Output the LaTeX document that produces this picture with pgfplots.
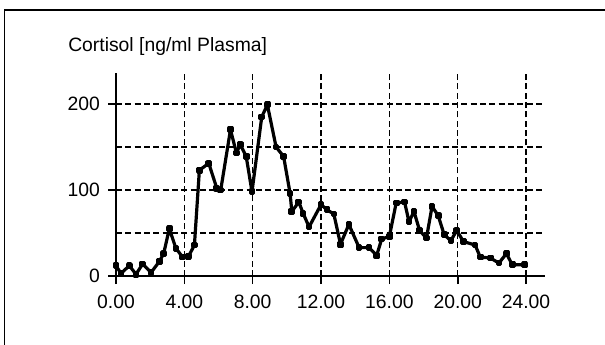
\documentclass[border=0pt]{standalone}
\usepackage{pgfplots}
\pgfplotsset{compat=1.18}
\usepackage{fontspec}
\setmainfont{Liberation Sans}
\begin{document}
\fontsize{14.5}{17}\selectfont
\begin{tikzpicture}[x=1pt,y=1pt]
\useasboundingbox (0,0) rectangle (453.75,258);
\draw[line width=1.2pt] (3.4,-2) -- (3.4,250.5) -- (456,250.5);
\node[anchor=west,inner sep=0pt] at (51,223.5) {Cortisol [ng/ml Plasma]};
\begin{axis}[
  at={(87pt,51pt)}, anchor=origin,
  scale only axis, width=321.75pt, height=152.25pt,
  xmin=0, xmax=25.11, ymin=0, ymax=236,
  axis x line*=bottom, axis y line*=left,
  axis line style={line width=1.5pt,-},
  tick align=outside, major tick length=6pt, minor tick length=0pt,
  tick style={line width=1.2pt,black},
  xtick={0,4,8,12,16,20,24},
  xticklabels={0.00,4.00,8.00,12.00,16.00,20.00,24.00},
  ytick={0,100,200}, yticklabels={0,100,200},
  minor ytick={50,150},
  xmajorgrids, ymajorgrids, yminorgrids,
  major grid style={black,line width=1pt,dash pattern=on 4.5pt off 2.5pt},
  minor grid style={black,line width=1pt,dash pattern=on 4.5pt off 2.5pt},
  xticklabel style={yshift=-3pt},
  yticklabel style={xshift=-1pt},
  clip=false,
]
\addplot[black,line width=2.4pt,mark=square*,mark size=1.3pt,line join=round] coordinates {
(0.0,12) (0.29,3) (0.78,12) (1.17,2) (1.56,14) (2.05,4) (2.54,17) (2.79,26)
(3.12,55) (3.51,32) (3.9,22) (4.25,23) (4.59,36) (4.88,123) (5.43,131)
(5.9,102) (6.13,100) (6.7,170) (7.05,143) (7.27,153) (7.62,139) (7.96,98)
(8.53,185) (8.86,199) (9.37,150) (9.81,139) (10.19,96) (10.29,75) (10.7,86)
(10.95,73) (11.3,57) (12.0,83) (12.35,77) (12.75,72) (13.14,37) (13.63,60)
(14.23,33) (14.8,33) (15.26,24) (15.55,43) (16.0,46) (16.4,85) (16.89,86)
(17.15,63) (17.44,75) (17.77,53) (18.17,44) (18.5,81) (18.86,70) (19.21,48)
(19.6,41) (19.94,53) (20.34,40) (21.02,36) (21.32,22) (21.91,21) (22.41,15)
(22.85,26) (23.2,13) (23.9,13)
};
\end{axis}
\end{tikzpicture}
\end{document}
